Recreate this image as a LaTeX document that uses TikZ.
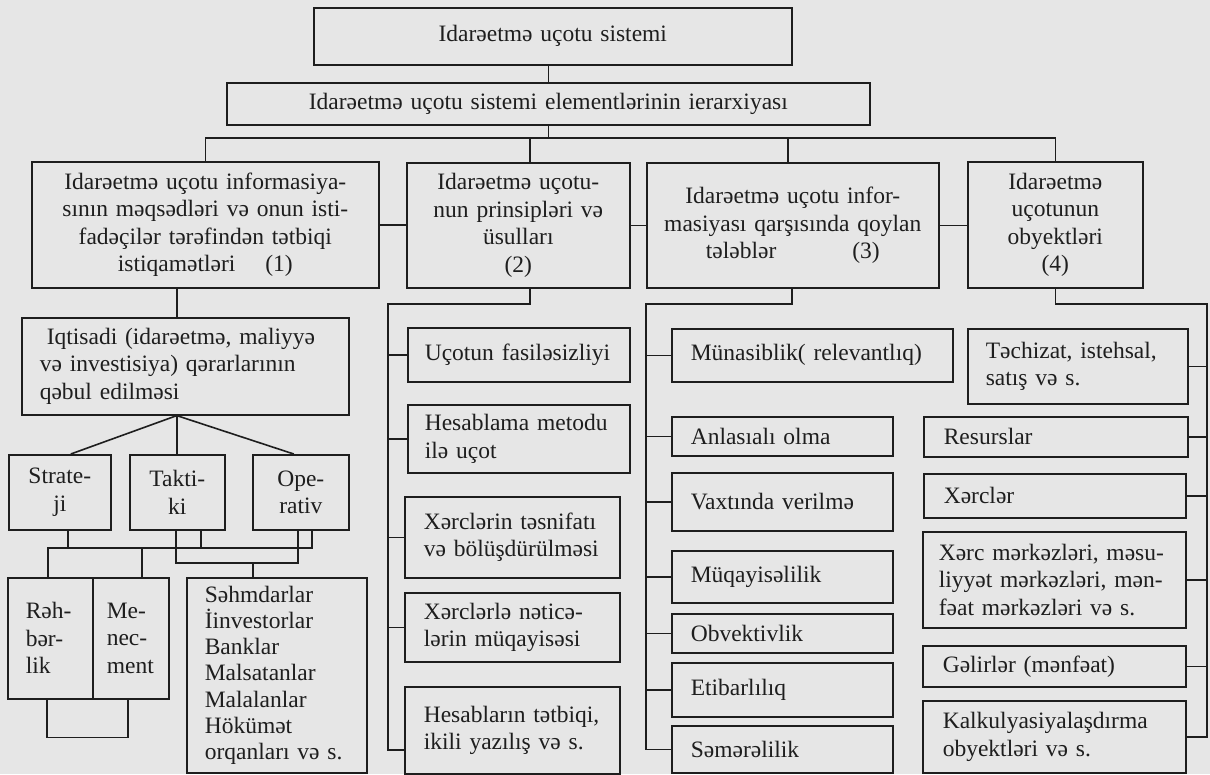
\documentclass[tikz,border=0pt]{standalone}
\usepackage{fontspec}
\setmainfont{Liberation Serif}
\definecolor{paper}{HTML}{E6E6E6}
\definecolor{ink}{HTML}{1E1E1E}
\newcommand\bodyfont{\fontsize{23.5}{27.5}\selectfont}
\begin{document}
\begin{tikzpicture}[x=1pt,y=-1pt,
  box/.style={draw=ink, line width=1.6pt, fill=paper, inner ysep=2pt, font=\bodyfont, text=ink, anchor=north west},
  cbox/.style={box, align=center, inner xsep=4pt},
  lbox/.style={box, align=left, inner xsep=18pt},
  ln/.style={draw=ink, line width=1.6pt}]
\fill[paper] (0,0) rectangle (1210,774);
\useasboundingbox (0,0) rectangle (1210,774);
% top
\node[cbox, text width=470pt, minimum height=57pt] (T1) at (313,7) {Idarəetmə uçotu sistemi};
\node[cbox, text width=635pt, minimum height=42pt] (T2) at (226,82) {Idarəetmə uçotu sistemi elementlərinin ierarxiyası};
% level 1
\node[cbox, text width=339pt, minimum height=126pt] (B1) at (31,161) {Idarəetmə uçotu informasiya-\\sının məqsədləri və onun isti-\\fadəçilər tərəfindən tətbiqi\\istiqamətləri\hspace{30pt}(1)};
\node[cbox, text width=215pt, minimum height=125pt] (B2) at (406,162) {Idarəetmə uçotu-\\nun prinsipləri və\\üsulları\\(2)};
\node[cbox, text width=284pt, minimum height=125pt] (B3) at (646,162) {Idarəetmə uçotu infor-\\masiyası qarşısında qoylan\\tələblər\hspace{76pt}(3)};
\node[cbox, text width=167pt, minimum height=126pt] (B4) at (967,161) {Idarəetmə\\uçotunun\\obyektləri\\(4)};
% left column
\node[lbox, text width=291pt, minimum height=97pt] (I1) at (21,317) {\hspace*{7pt}Iqtisadi (idarəetmə, maliyyə\\və investisiya) qərarlarının\\qəbul edilməsi};
\node[cbox, text width=94pt, minimum height=75pt] (S1) at (8,454) {Strate-\\ji};
\node[cbox, text width=87pt, minimum height=75pt] (K1) at (129,454) {Takti-\\ki};
\node[cbox, text width=88pt, minimum height=75pt] (O1) at (252,454) {Ope-\\rativ};
\node[lbox, text width=49pt, minimum height=121pt] (R1) at (7,577) {Rəh-\\bər-\\lik};
\node[lbox, inner xsep=14pt, text width=48pt, minimum height=121pt] (M1) at (92,577) {Me-\\nec-\\ment};
\node[lbox, text width=144pt, minimum height=195pt, font=\fontsize{23.5}{26.3}\selectfont] (SH) at (186,577) {Səhmdarlar\\İinvestorlar\\Banklar\\Malsatanlar\\Malalanlar\\Hökümət\\orqanları və s.};
% column 2
\node[lbox, inner xsep=17pt, text width=188pt, minimum height=54pt] (U1) at (407,327) {Uçotun fasiləsizliyi};
\node[lbox, inner xsep=17pt, text width=188pt, minimum height=68pt] (H2) at (407,404) {Hesablama metodu\\ilə uçot};
\node[lbox, inner xsep=19pt, text width=177pt, minimum height=81pt] (X3) at (404,496) {Xərclərin təsnifatı\\və bölüşdürülməsi};
\node[lbox, inner xsep=19pt, text width=177pt, minimum height=69pt] (X4) at (404,592) {Xərclərlə nəticə-\\lərin müqayisəsi};
\node[lbox, inner xsep=19pt, text width=177pt, minimum height=87pt] (H5) at (404,686) {Hesabların tətbiqi,\\ikili yazılış və s.};
% column 3
\node[lbox, inner xsep=19pt, text width=243pt, minimum height=53pt] (N1) at (671,328) {Münasiblik( relevantlıq)};
\node[lbox, inner xsep=19pt, text width=183pt, minimum height=39pt] (N2) at (671,416) {Anlasıalı olma};
\node[lbox, inner xsep=19pt, text width=183pt, minimum height=58pt] (N3) at (671,472) {Vaxtında verilmə};
\node[lbox, inner xsep=19pt, text width=183pt, minimum height=52pt] (N4) at (671,550) {Müqayisəlilik};
\node[lbox, inner xsep=19pt, text width=183pt, minimum height=39pt] (N5) at (671,613) {Obvektivlik};
\node[lbox, inner xsep=19pt, text width=183pt, minimum height=54pt] (N6) at (671,662) {Etibarlılıq};
\node[lbox, inner xsep=19pt, text width=183pt, minimum height=47pt] (N7) at (671,725) {Səmərəlilik};
% column 4
\node[lbox, text width=184pt, minimum height=75pt] (P1) at (967,328) {Təchizat, istehsal,\\satış və s.};
\node[lbox, inner xsep=20pt, text width=224pt, minimum height=40pt] (P2) at (923,416) {Resurslar};
\node[lbox, inner xsep=20pt, text width=222pt, minimum height=44pt] (P3) at (923,473) {Xərclər};
\node[lbox, inner xsep=16pt, text width=231pt, minimum height=96pt] (P4) at (922,531) {\mbox{Xərc mərkəzləri, məsu-}\\\mbox{liyyət mərkəzləri, mən-}\\\mbox{fəat mərkəzləri və s.}};
\node[lbox, inner xsep=20pt, text width=223pt, minimum height=41pt] (P5) at (922,645) {Gəlirlər (mənfəat)};
\node[lbox, inner xsep=20pt, text width=223pt, minimum height=72pt] (P6) at (922,700) {Kalkulyasiyalaşdırma\\obyektləri və s.};
% connectors top
\draw[ln] (T2.north) -- (T2.north |- T1.south);
\coordinate (busy) at (0,138);
\draw[ln] (T2.south) -- (T2.south |- busy);
\draw[ln] (B1.north) |- (busy -| B4.north) -- (B4.north);
\draw[ln] ([xshift=11.5pt]B2.north) -- ([xshift=11.5pt]B2.north |- busy);
\draw[ln] ([xshift=-5pt]B3.north) -- ([xshift=-5pt]B3.north |- busy);
\draw[ln] (B1.east) -- (B1.east -| B2.west);
\draw[ln] (B2.east) -- (B2.east -| B3.west);
\draw[ln] (B3.east) -- (B3.east -| B4.west);
% column 2 spine
\coordinate (c2a) at (388,304);
\coordinate (c2b) at (388,750);
\draw[ln] ([xshift=11.5pt]B2.south) |- (c2a) -- (c2b) -- (c2b -| H5.west);
\foreach \n in {U1,H2,X3,X4} \draw[ln] (c2a |- \n.west) -- (\n.west);
% column 3 spine
\coordinate (c3a) at (646,304);
\draw[ln] ([xshift=-1pt]B3.south) |- (c3a) -- (c3a |- N7.west) -- (N7.west);
\foreach \n in {N1,N2,N3,N4,N5,N6} \draw[ln] (c3a |- \n.west) -- (\n.west);
% column 4 spine
\coordinate (c4a) at (1207,304);
\draw[ln] (B4.south) |- (c4a) -- (c4a |- P6.east) -- (P6.east);
\foreach \n in {P1,P2,P3,P4,P5} \draw[ln] (c4a |- \n.east) -- (\n.east);
% left column
\draw[ln] ([xshift=-8.5pt]I1.north) -- ([xshift=-8.5pt]I1.north |- B1.south);
\coordinate (hub) at ([xshift=-8.5pt]I1.south);
\draw[ln] (hub) -- ([xshift=11pt]S1.north);
\draw[ln] (hub) -- (hub |- K1.north);
\draw[ln] (hub) -- ([xshift=-7pt]O1.north);
\coordinate (busA) at (0,548);
\coordinate (busB) at (0,563);
\draw[ln] ([xshift=8pt]S1.south) -- ([xshift=8pt]S1.south |- busA);
\draw[ln] ([xshift=23.5pt]K1.south) -- ([xshift=23.5pt]K1.south |- busA);
\draw[ln] ([xshift=-2.5pt]R1.north) |- ([xshift=11pt]O1.south |- busA) -- ([xshift=11pt]O1.south);
\draw[ln] ([xshift=11pt]M1.north) -- ([xshift=11pt]M1.north |- busA);
\draw[ln] ([xshift=-1.5pt]K1.south) |- ([xshift=-3pt]O1.south |- busB) -- ([xshift=-3pt]O1.south);
\draw[ln] ([xshift=-24pt]SH.north) -- ([xshift=-24pt]SH.north |- busB);
\draw[ln] ([xshift=-3.5pt]R1.south) -- ++(0,38) -| ([xshift=-3pt]M1.south);
\end{tikzpicture}
\end{document}
